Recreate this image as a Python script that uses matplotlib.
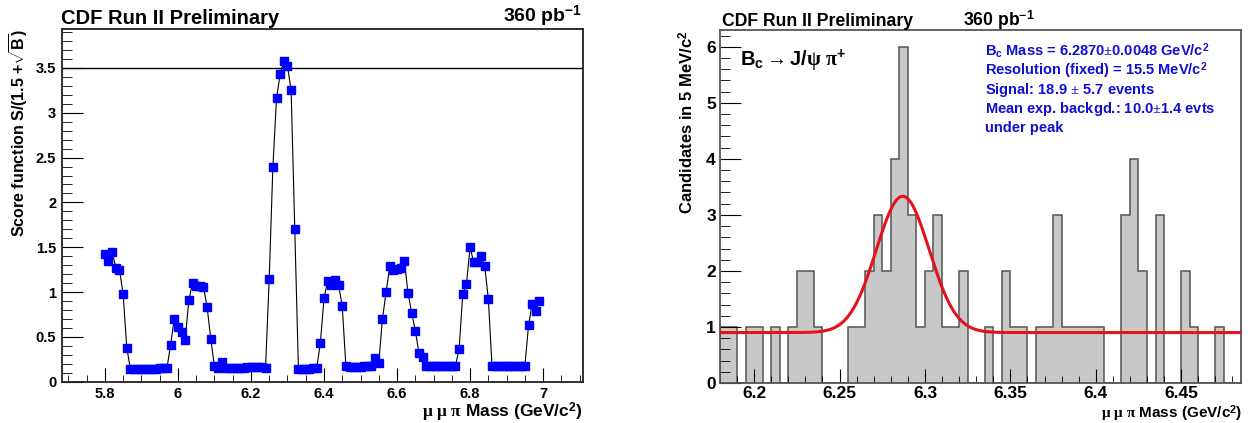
#!/usr/bin/env python3
"""CDF Run II Bc -> J/psi pi+ : score scan and mass histogram"""
import numpy as np
import matplotlib
matplotlib.use("Agg")
import matplotlib.pyplot as plt
from matplotlib.ticker import MultipleLocator

plt.rcParams['font.family'] = ['Liberation Sans', 'DejaVu Sans']
plt.rcParams['font.weight'] = 'bold'
plt.rcParams['axes.labelweight'] = 'bold'
plt.rcParams['mathtext.fontset'] = 'custom'
plt.rcParams['mathtext.rm'] = 'Liberation Serif'
plt.rcParams['mathtext.it'] = 'Liberation Serif:italic'
plt.rcParams['mathtext.bf'] = 'Liberation Sans:bold'
plt.rcParams['mathtext.sf'] = 'Liberation Sans:bold'

W, H = 1255, 423

# left: score function vs mass window centre (10 MeV steps)
scan_mass = np.round(np.arange(5.80, 6.995, 0.01), 2)
score = [
    1.43, 1.35, 1.45, 1.27, 1.25, 0.98, 0.38, 0.14, 0.14, 0.14,
    0.14, 0.14, 0.145, 0.145, 0.145, 0.15, 0.15, 0.15, 0.41, 0.70,
    0.61, 0.55, 0.47, 0.91, 1.10, 1.07, 1.07, 1.06, 0.83, 0.48,
    0.17, 0.15, 0.22, 0.15, 0.15, 0.15, 0.155, 0.155, 0.155, 0.16,
    0.16, 0.16, 0.16, 0.16, 0.155, 1.15, 2.39, 3.16, 3.43, 3.58,
    3.52, 3.25, 1.70, 0.14, 0.14, 0.145, 0.145, 0.15, 0.15, 0.43,
    0.93, 1.12, 1.08, 1.13, 1.08, 0.84, 0.17, 0.165, 0.165, 0.165,
    0.165, 0.17, 0.17, 0.18, 0.27, 0.21, 0.70, 1.00, 1.29, 1.25,
    1.26, 1.27, 1.35, 0.99, 0.77, 0.57, 0.32, 0.275, 0.17, 0.17,
    0.17, 0.175, 0.175, 0.175, 0.175, 0.175, 0.175, 0.37, 0.98, 1.09,
    1.50, 1.33, 1.33, 1.40, 1.29, 0.92, 0.17, 0.17, 0.17, 0.17,
    0.17, 0.17, 0.175, 0.175, 0.175, 0.175, 0.63, 0.87, 0.79, 0.90,
]
score_cut = 3.5

# right: candidates in 5 MeV bins, 6.180 - 6.485
hist_lo, hist_w = 6.180, 0.005
counts = [
    1, 1, 0, 1, 1, 0, 1, 0, 1, 2, 2, 1, 0, 0, 0, 1, 1, 2, 3, 2,
    4, 6, 3, 1, 2, 3, 1, 1, 2, 0, 0, 1, 0, 2, 1, 1, 0, 1, 1, 3,
    1, 1, 1, 1, 1, 0, 0, 3, 4, 2, 0, 3, 0, 0, 2, 1, 0, 0, 1, 0,
    0,
]
edges = hist_lo + hist_w * np.arange(len(counts) + 1)

# fit result (gaussian + flat background)
fit_mean, fit_sigma = 6.2870, 0.0155
fit_signal, fit_bkg = 18.9, 0.9

fit_text = [
    r'B$_\mathbf{c}$ Mass = 6.2870$\pm$0.0048 GeV/c$^\mathbf{2}$',
    r'Resolution (fixed) = 15.5 MeV/c$^\mathbf{2}$',
    r'Signal: 18.9$\,\pm\,$5.7 events',
    r'Mean exp. backgd.: 10.0$\pm$1.4 evts',
    'under peak',
]
mass_label = r'$\mathrm{\mu\ \mu\ \pi}$ Mass (GeV/c$^\mathbf{2}$)'


def px(x, y):
    """pixel (from top-left) -> figure fraction"""
    return x / W, 1 - y / H


fig = plt.figure(figsize=(W / 100, H / 100), dpi=100)

# ---- left panel
ax1 = fig.add_axes([0.0492, 0.0976, 0.4156, 0.833])
ax1.plot(scan_mass, score, color='black', lw=0.8, zorder=2)
ax1.plot(scan_mass, score, 's', color='#0000ff', ms=5.2, mec='#0000ff', zorder=3)
ax1.axhline(score_cut, color='black', lw=1.0)
ax1.set_xlim(5.682, 7.11)
ax1.set_ylim(0, 3.93)
ax1.xaxis.set_minor_locator(MultipleLocator(0.05))
ax1.yaxis.set_minor_locator(MultipleLocator(0.1))
ax1.set_xticks([5.8, 6.0, 6.2, 6.4, 6.6, 6.8, 7.0], ['5.8', '6', '6.2', '6.4', '6.6', '6.8', '7'])
ax1.set_yticks([0, 0.5, 1, 1.5, 2, 2.5, 3, 3.5], ['0', '0.5', '1', '1.5', '2', '2.5', '3', '3.5'])
ax1.tick_params(axis='both', which='both', direction='in', labelsize=10.5)
ax1.tick_params(axis='y', which='major', length=15, pad=4)
ax1.tick_params(axis='y', which='minor', length=7)
ax1.tick_params(axis='x', which='major', length=10, pad=4)
ax1.tick_params(axis='x', which='minor', length=5)
for s in ax1.spines.values():
    s.set_linewidth(1.3)
    s.set_color('#222222')
ax1.set_ylabel(r'Score function S/(1.5 +$\sqrt{\mathbf{B}}$)', fontsize=11.5,
               loc='top', labelpad=4)
fig.text(*px(583, 417), mass_label, fontsize=12.5, ha='right', va='baseline')
fig.text(*px(61, 24), 'CDF Run II Preliminary', fontsize=14.5, ha='left', va='baseline')
fig.text(*px(582, 22), r'360 pb$^{\mathbf{-1}}$', fontsize=14, ha='right', va='baseline')

# ---- right panel
ax2 = fig.add_axes([0.5737, 0.0946, 0.4151, 0.8345])
ax2.stairs(counts, edges, fill=True, facecolor='#c8c8c8', edgecolor='#555555',
           lw=1.1, zorder=1)
xf = np.linspace(edges[0], edges[-1], 400)
yf = fit_bkg + fit_signal * hist_w / (fit_sigma * np.sqrt(2 * np.pi)) * \
    np.exp(-0.5 * ((xf - fit_mean) / fit_sigma) ** 2)
ax2.plot(xf, yf, color='#e3121c', lw=2.2, zorder=3)
ax2.set_xlim(edges[0], edges[-1])
ax2.set_ylim(0, 6.3)
ax2.set_xticks([6.2, 6.25, 6.3, 6.35, 6.4, 6.45], ['6.2', '6.25', '6.3', '6.35', '6.4', '6.45'])
ax2.xaxis.set_minor_locator(MultipleLocator(0.01))
ax2.yaxis.set_major_locator(MultipleLocator(1))
ax2.yaxis.set_minor_locator(MultipleLocator(0.2))
ax2.tick_params(axis='both', which='both', direction='in', labelsize=12.5)
ax2.tick_params(axis='y', which='major', length=15, pad=3)
ax2.tick_params(axis='y', which='minor', length=7)
ax2.tick_params(axis='x', which='major', length=10, pad=2)
ax2.tick_params(axis='x', which='minor', length=5)
for s in ax2.spines.values():
    s.set_linewidth(1.3)
    s.set_color('#555555')
ax2.set_ylabel(r'Candidates in 5 MeV/c$^\mathbf{2}$', fontsize=12, loc='top', labelpad=7)
fig.text(*px(1242, 418), mass_label, fontsize=11, ha='right', va='baseline')
fig.text(*px(722, 26), 'CDF Run II Preliminary', fontsize=12.7, ha='left', va='baseline')
fig.text(*px(963, 26), r'360 pb$^{\mathbf{-1}}$', fontsize=12.7, ha='left', va='baseline')
fig.text(*px(740, 65),
         r'$\mathbf{B_c}\rightarrow\mathbf{J/}\mathrm{\psi}\ \mathrm{\pi}^\mathbf{+}$',
         fontsize=14.5, ha='left', va='baseline')
for k, line in enumerate(fit_text):
    fig.text(*px(985, 56 + 19 * k), line, fontsize=10.5, color='#1010d0',
             ha='left', va='baseline')

fig.savefig('out.png', dpi=100)
